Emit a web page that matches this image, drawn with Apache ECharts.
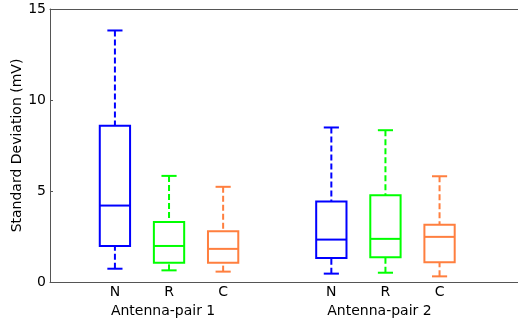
<!DOCTYPE html>
<html>
<head>
<meta charset="utf-8">
<script src="https://cdn.jsdelivr.net/npm/echarts@6/dist/echarts.min.js"></script>
<style>html,body{margin:0;padding:0;background:#fff}#c{width:518px;height:324px}</style>
</head>
<body>
<div id="c"></div>
<script>
// Data
var categories = ['N', 'R', 'C', 'N', 'R', 'C'];
var positions = [1, 2, 3, 5, 6, 7];
var groupLabels = ['Antenna-pair 1', 'Antenna-pair 2'];
var groupPositions = [1.89, 5.89];
var whiskerLow = [0.73, 0.64, 0.57, 0.46, 0.51, 0.31];
var q1 = [1.98, 1.06, 1.06, 1.32, 1.36, 1.08];
var median = [4.20, 1.98, 1.82, 2.33, 2.37, 2.48];
var q3 = [8.58, 3.30, 2.79, 4.42, 4.77, 3.15];
var whiskerHigh = [13.82, 5.83, 5.23, 8.49, 8.34, 5.81];
var yTicks = [0, 5, 10, 15];
var colors = ['#0000ff', '#00ff00', '#ff7f3f', '#0000ff', '#00ff00', '#ff7f3f'];

var chart = echarts.init(document.getElementById('c'), null, {renderer: 'canvas'});
var font = '"DejaVu Sans", "Liberation Sans", Arial, sans-serif';
var axisColor = '#555555';

var data = positions.map(function (p, i) {
  return [p, whiskerLow[i], q1[i], median[i], q3[i], whiskerHigh[i], i];
});

var halfBox = 0.28;
var halfCap = 0.14;

function renderItem(params, api) {
  var x = api.value(0);
  var idx = api.value(6);
  var c = colors[idx];
  var lo = api.coord([x, api.value(1)]);
  var b1 = api.coord([x - halfBox, api.value(2)]);
  var b3 = api.coord([x + halfBox, api.value(4)]);
  var mL = api.coord([x - halfBox, api.value(3)]);
  var mR = api.coord([x + halfBox, api.value(3)]);
  var hi = api.coord([x, api.value(5)]);
  var q1c = api.coord([x, api.value(2)]);
  var q3c = api.coord([x, api.value(4)]);
  var capL = api.coord([x - halfCap, 0])[0];
  var capR = api.coord([x + halfCap, 0])[0];
  var solid = {stroke: c, lineWidth: 2, fill: null};
  var dashed = {stroke: c, lineWidth: 2, lineDash: [6, 3], fill: null};
  return {
    type: 'group',
    children: [
      {type: 'line', shape: {x1: hi[0], y1: hi[1], x2: q3c[0], y2: q3c[1]}, style: dashed},
      {type: 'line', shape: {x1: lo[0], y1: lo[1], x2: q1c[0], y2: q1c[1]}, style: dashed},
      {type: 'line', shape: {x1: capL, y1: hi[1], x2: capR, y2: hi[1]}, style: solid},
      {type: 'line', shape: {x1: capL, y1: lo[1], x2: capR, y2: lo[1]}, style: solid},
      {type: 'rect', shape: {x: b1[0], y: b3[1], width: b3[0] - b1[0], height: b1[1] - b3[1]}, style: {stroke: c, lineWidth: 2, fill: '#fff'}},
      {type: 'line', shape: {x1: mL[0], y1: mL[1], x2: mR[0], y2: mR[1]}, style: solid}
    ]
  };
}

var option = {
  animation: false,
  backgroundColor: '#fff',
  grid: {left: 50, right: 0, top: 9, bottom: 42, containLabel: false, outerBoundsMode: 'none'},
  xAxis: [
    {
      type: 'value', min: -0.2, max: 8.45,
      axisLine: {show: true, onZero: false, lineStyle: {color: axisColor, width: 1}},
      axisTick: {show: false},
      splitLine: {show: false},
      axisLabel: {
        customValues: positions,
        formatter: function (v) {
          var i = positions.indexOf(v);
          return i >= 0 ? categories[i] : '';
        },
        color: '#000', fontSize: 14, fontFamily: font, margin: 3
      }
    },
    {
      type: 'value', min: -0.2, max: 8.45, position: 'bottom', offset: 19,
      axisLine: {show: false, onZero: false},
      axisTick: {show: false},
      splitLine: {show: false},
      axisLabel: {
        customValues: groupPositions,
        formatter: function (v) {
          var i = groupPositions.indexOf(v);
          return i >= 0 ? groupLabels[i] : '';
        },
        color: '#000', fontSize: 14, fontFamily: font, margin: 3
      }
    },
    {
      type: 'value', min: -0.2, max: 8.45, position: 'top',
      axisLine: {show: true, onZero: false, lineStyle: {color: axisColor, width: 1}},
      axisTick: {show: false}, axisLabel: {show: false}, splitLine: {show: false}
    }
  ],
  yAxis: {
    type: 'value', min: 0, max: 15, interval: 5,
    name: 'Standard Deviation (mV)', nameLocation: 'middle', nameGap: 26,
    nameMoveOverlap: false,
    nameTextStyle: {color: '#000', fontSize: 14, fontFamily: font},
    axisLine: {show: true, onZero: false, lineStyle: {color: axisColor, width: 1}},
    axisTick: {show: true, inside: true, length: 3, lineStyle: {color: axisColor}},
    splitLine: {show: false},
    axisLabel: {
      customValues: yTicks,
      color: '#000', fontSize: 14, fontFamily: font, margin: 4
    }
  },
  series: [{
    type: 'custom',
    xAxisIndex: 0,
    renderItem: renderItem,
    encode: {x: 0, y: [1, 2, 3, 4, 5]},
    data: data,
    clip: false
  }]
};
chart.setOption(option);
</script>
</body>
</html>
